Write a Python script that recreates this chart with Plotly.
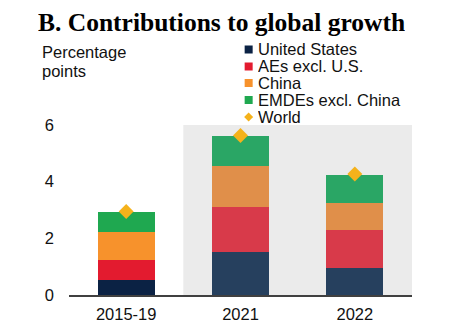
import plotly.graph_objects as go

categories = ["2015-19", "2021", "2022"]
us = [0.53, 1.53, 0.96]
aes = [0.71, 1.59, 1.34]
china = [0.97, 1.44, 0.94]
emdes = [0.73, 1.06, 1.01]
world = [2.95, 5.63, 4.27]
series_names = ["United States", "AEs excl. U.S.", "China", "EMDEs excl. China"]
y_ticks = [0, 2, 4, 6]

W, H = 449, 331
L, R, T, B = 69, 37.3, 125, 36
PW, PH = W - L - R, H - T - B

def px(x):
    return (x - L) / PW

def py(y):
    return (H - B - y) / PH

base_colors = ["#0b2244", "#e31b2f", "#f7922c", "#1fa850"]
light_colors = ["#26405e", "#d83a4a", "#e08f4a", "#2aa665"]
values = [us, aes, china, emdes]

FONT = "Liberation Sans, Arial, sans-serif"
fig = go.Figure()
for name, vals, c0, c1 in zip(series_names, values, base_colors, light_colors):
    fig.add_trace(go.Bar(
        x=categories, y=vals, name=name,
        marker=dict(color=[c0, c1, c1], line=dict(width=0)),
        width=0.5, showlegend=False,
    ))
fig.add_trace(go.Scatter(
    x=categories, y=world, mode="markers", name="World",
    marker=dict(symbol="diamond", size=11.5, color="#f5b21b", line=dict(width=0)),
    showlegend=False,
))

shapes = [dict(type="rect", xref="x", yref="y", x0=0.5, x1=2.5, y0=0, y1=6,
               fillcolor="#ebebeb", line=dict(width=0), layer="below")]
annotations = []

def label(text, x, y, size=16.5, family=FONT, color="#111111", h=17):
    annotations.append(dict(text=text, xref="paper", yref="paper", x=px(x), y=py(y),
                            xanchor="left", yanchor="middle", showarrow=False, height=h,
                            valign="middle",
                            font=dict(family=family, size=size, color=color)))

# custom legend
leg_y = [48.5, 65.5, 82, 99, 116]
sq = 8
for i, (name, c) in enumerate(zip(series_names, base_colors)):
    cy = leg_y[i]
    shapes.append(dict(type="rect", xref="paper", yref="paper",
                       x0=px(244.5), x1=px(244.5 + sq), y0=py(cy + 1 + sq / 2), y1=py(cy + 1 - sq / 2),
                       fillcolor=c, line=dict(width=0)))
    label(name, 256, cy)
cy = leg_y[4]
cx = 248.5
r = 4.5
shapes.append(dict(type="path", xref="paper", yref="paper",
                   path=f"M {px(cx - r)},{py(cy + 1)} L {px(cx)},{py(cy + 1 - r)} L {px(cx + r)},{py(cy + 1)} L {px(cx)},{py(cy + 1 + r)} Z",
                   fillcolor="#f5b21b", line=dict(width=0)))
label("World", 256, cy)

label("Percentage", 40, 51.5, h=19)
label("points", 40, 70.5, h=19)
label("<b>B. Contributions to global growth</b>", 36, 22, size=25.5,
      family="Liberation Serif, Times New Roman, serif", color="#000000", h=32)

fig.update_layout(
    width=W, height=H, margin=dict(l=L, r=R, t=T, b=B, pad=0, autoexpand=False),
    barmode="stack", bargap=0.5,
    plot_bgcolor="white", paper_bgcolor="white",
    shapes=shapes, annotations=annotations, showlegend=False,
    font=dict(family=FONT, size=16.5, color="#111111"),
)
fig.update_xaxes(range=[-0.5, 2.5], showline=True, linecolor="#404040", linewidth=1.5,
                 showgrid=False, ticks="", tickfont=dict(size=16.5), ticklabelstandoff=3,
                 automargin=False)
fig.update_yaxes(range=[0, 6], tickvals=y_ticks, showgrid=False, zeroline=False, showline=False,
                 ticks="", ticklabelstandoff=14, tickfont=dict(size=16.5), automargin=False)
fig.write_html("out.html")
